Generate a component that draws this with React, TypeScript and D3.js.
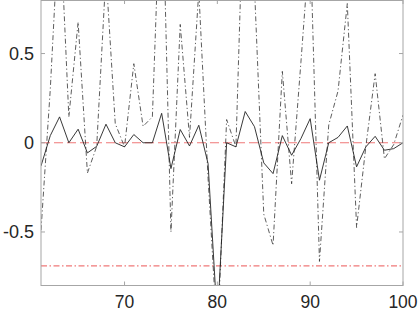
import { useEffect, useRef } from 'react';
import * as d3 from 'd3';

const xValues = [
  61, 62, 63, 64, 65, 66, 67, 68, 69, 70,
  71, 72, 73, 74, 75, 76, 77, 78, 79, 80,
  81, 82, 83, 84, 85, 86, 87, 88, 89, 90,
  91, 92, 93, 94, 95, 96, 97, 98, 99, 100,
];

const solidSeries = [
  -0.13, 0.04, 0.145, 0.0, 0.076, -0.057, -0.02, 0.104, 0.0, -0.023,
  0.046, 0.0, 0.0, 0.165, -0.145, 0.074, -0.018, 0.098, -0.117, -1.0,
  0.0, -0.023, 0.175, 0.09, -0.113, -0.173, 0.04, -0.07, 0.023, 0.135,
  -0.21, 0.0, 0.03, 0.094, -0.135, -0.023, 0.036, -0.042, -0.033, 0.0,
];

const dashDotSeries = [
  -0.49, 0.3, 1.3, 0.145, 0.676, -0.17, -0.02, 0.95, 0.107, -0.023,
  0.443, 0.092, 0.145, 1.6, -0.5, 0.663, 0.03, 0.85, -0.2, -1.1,
  0.13, -0.023, 1.7, 0.87, -0.4, -0.575, 0.4, -0.23, 0.45, 1.15,
  -0.665, 0.1, 0.29, 0.78, -0.475, -0.02, 0.387, -0.09, -0.01, 0.155,
];

const refLevels = [0, -0.69];
const xTicks = [70, 80, 90, 100];
const yTicks = [-0.5, 0, 0.5];

const W = 418;
const H = 312;
const plot = { left: 41, right: 403, top: 0, bottom: 285.5 };
const axisColor = '#a6a6a6';
const textColor = '#262626';
const font = '"Liberation Sans", Arial, Helvetica, sans-serif';

export default function App() {
  const svgRef = useRef<SVGSVGElement>(null);

  useEffect(() => {
    if (!svgRef.current) return;
    const svg = d3.select(svgRef.current);
    svg.selectAll('*').remove();

    const x = d3.scaleLinear().domain([61, 100]).range([plot.left, plot.right]);
    const y = d3.scaleLinear().domain([-0.8, 0.8]).range([plot.bottom, plot.top]);

    svg.append('defs')
      .append('clipPath')
      .attr('id', 'plotClip')
      .append('rect')
      .attr('x', plot.left)
      .attr('y', plot.top)
      .attr('width', plot.right - plot.left)
      .attr('height', plot.bottom - plot.top);

    const inner = svg.append('g').attr('clip-path', 'url(#plotClip)');

    // reference lines
    inner.append('line')
      .attr('x1', plot.left).attr('x2', plot.right)
      .attr('y1', y(refLevels[0])).attr('y2', y(refLevels[0]))
      .attr('stroke', '#f07878')
      .attr('stroke-width', 1.1)
      .attr('stroke-dasharray', '9,4');

    inner.append('line')
      .attr('x1', plot.left).attr('x2', plot.right)
      .attr('y1', y(refLevels[1])).attr('y2', y(refLevels[1]))
      .attr('stroke', '#f07878')
      .attr('stroke-width', 1.1)
      .attr('stroke-dasharray', '6,2.5,1.5,2.5');

    const line = d3.line<number>()
      .x((_, i) => x(xValues[i]))
      .y((d) => y(d));

    inner.append('path')
      .datum(dashDotSeries)
      .attr('fill', 'none')
      .attr('stroke', '#333')
      .attr('stroke-width', 0.8)
      .attr('stroke-dasharray', '5,2.5,1.2,2.5')
      .attr('d', line);

    inner.append('path')
      .datum(solidSeries)
      .attr('fill', 'none')
      .attr('stroke', '#222')
      .attr('stroke-width', 0.9)
      .attr('d', line);

    // box
    svg.append('rect')
      .attr('x', plot.left)
      .attr('y', plot.top + 0.5)
      .attr('width', plot.right - plot.left)
      .attr('height', plot.bottom - plot.top - 0.5)
      .attr('fill', 'none')
      .attr('stroke', axisColor)
      .attr('stroke-width', 1);

    const tickLen = 4;
    xTicks.forEach((t) => {
      const px = x(t);
      svg.append('line')
        .attr('x1', px).attr('x2', px)
        .attr('y1', plot.bottom).attr('y2', plot.bottom - tickLen)
        .attr('stroke', axisColor);
      svg.append('line')
        .attr('x1', px).attr('x2', px)
        .attr('y1', plot.top).attr('y2', plot.top + tickLen)
        .attr('stroke', axisColor);
      svg.append('text')
        .attr('x', px)
        .attr('y', 307.5)
        .attr('text-anchor', 'middle')
        .style('font-family', font)
        .style('font-size', '17.5px')
        .style('fill', textColor)
        .text(String(t));
    });

    yTicks.forEach((t) => {
      const py = y(t);
      svg.append('line')
        .attr('x1', plot.left).attr('x2', plot.left + tickLen)
        .attr('y1', py).attr('y2', py)
        .attr('stroke', axisColor);
      svg.append('line')
        .attr('x1', plot.right).attr('x2', plot.right - tickLen)
        .attr('y1', py).attr('y2', py)
        .attr('stroke', axisColor);
      svg.append('text')
        .attr('x', 34)
        .attr('y', py + 6.5)
        .attr('text-anchor', 'end')
        .style('font-family', font)
        .style('font-size', '18px')
        .style('fill', textColor)
        .text(String(t));
    });
  }, []);

  return (
    <svg
      ref={svgRef}
      width={W}
      height={H}
      style={{ position: 'absolute', left: 0, top: 0, background: '#fff' }}
    />
  );
}
